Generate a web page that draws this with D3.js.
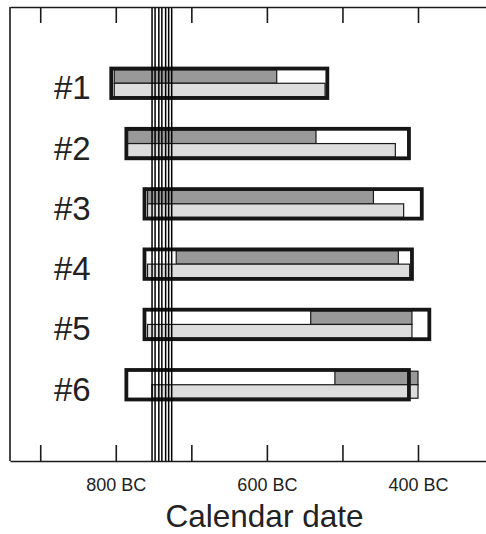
<!doctype html>
<html>
  <head>
    <meta charset="utf-8"/>
    <title>Calendar date</title>
    <style>
      body, html {
        padding: 0;
        margin: 0;
        border: 0;
        background: white;
      }
      svg text {
        font-family: "Liberation Sans", Arial, sans-serif;
        fill: #222;
      }
    </style>
    <script src="https://d3js.org/d3.v7.min.js"></script>
  </head>
  <body>
    <svg id="chart" width="486" height="534"></svg>

    <script>
      // dates are years BC
      var groups = ["#1", "#2", "#3", "#4", "#5", "#6"];
      var outerStart = [806, 786, 762, 762, 762, 786];
      var outerEnd   = [520, 412, 395, 408, 385, 412];
      var darkStart  = [802, 785, 758, 720, 542, 510];
      var darkEnd    = [587, 535, 459, 426, 408, 400];
      var lightStart = [802, 785, 758, 758, 758, 752];
      var lightEnd   = [523, 430, 419, 411, 408, 400];
      var lineDates  = [752, 748, 743, 739, 734, 730, 726];
      var tickValues = [900, 800, 700, 600, 500, 400];
      var tickLabels = ["", "800 BC", "", "600 BC", "", "400 BC"];

      var plotTop = 7, plotBottom = 461, plotLeft = 10, plotRight = 486;

      var x = d3.scaleLinear()
        .domain([940, 310])
        .range([plotLeft, plotRight]);

      var y = d3.scalePoint()
        .domain(groups)
        .range([plotTop, plotBottom])
        .padding(1.265);

      var svg = d3.select("#chart");

      var rows = groups.map(function(g, i) {
        return {
          id: g,
          outer: [outerStart[i], outerEnd[i]],
          dark: [darkStart[i], darkEnd[i]],
          light: [lightStart[i], lightEnd[i]]
        };
      });

      var half = 14.75, barH = 13.5;

      var row = svg.selectAll(".row")
        .data(rows)
        .enter().append("g")
          .attr("class", "row")
          .attr("transform", function(d) { return "translate(0," + y(d.id) + ")"; });

      // white box behind
      row.append("rect")
        .attr("x", function(d) { return x(d.outer[0]); })
        .attr("y", -half)
        .attr("width", function(d) { return x(d.outer[1]) - x(d.outer[0]); })
        .attr("height", half * 2)
        .attr("fill", "white");

      row.append("rect")
        .attr("x", function(d) { return x(d.dark[0]); })
        .attr("y", -barH)
        .attr("width", function(d) { return x(d.dark[1]) - x(d.dark[0]); })
        .attr("height", barH)
        .attr("fill", "#999")
        .attr("stroke", "#1a1a1a")
        .attr("stroke-width", 1.2);

      row.append("rect")
        .attr("x", function(d) { return x(d.light[0]); })
        .attr("y", 0)
        .attr("width", function(d) { return x(d.light[1]) - x(d.light[0]); })
        .attr("height", barH)
        .attr("fill", "#ddd")
        .attr("stroke", "#1a1a1a")
        .attr("stroke-width", 1.2);

      row.append("rect")
        .attr("x", function(d) { return x(d.outer[0]); })
        .attr("y", -half)
        .attr("width", function(d) { return x(d.outer[1]) - x(d.outer[0]); })
        .attr("height", half * 2)
        .attr("fill", "none")
        .attr("stroke", "#161616")
        .attr("stroke-width", 3.8);

      row.append("text")
        .attr("x", 54)
        .attr("y", 16)
        .style("font-size", "33px")
        .text(function(d) { return d.id; });

      // vertical date lines
      svg.selectAll(".vline")
        .data(lineDates)
        .enter().append("line")
          .attr("class", "vline")
          .attr("x1", function(d) { return x(d); })
          .attr("x2", function(d) { return x(d); })
          .attr("y1", plotTop)
          .attr("y2", plotBottom)
          .attr("stroke", "#000")
          .attr("stroke-width", 1.5);

      // axes, ticks pointing inward
      var xAxis = d3.axisBottom(x)
        .tickValues(tickValues)
        .tickSizeInner(-16)
        .tickSizeOuter(0)
        .tickPadding(17)
        .tickFormat(function(d, i) { return tickLabels[i]; });

      var gx = svg.append("g")
        .attr("transform", "translate(0," + plotBottom + ")")
        .call(xAxis);
      gx.selectAll("text").style("font-size", "18px").attr("fill", "#222");

      svg.append("g")
        .attr("transform", "translate(0," + plotTop + ")")
        .call(d3.axisTop(x).tickValues(tickValues).tickSizeInner(-16).tickSizeOuter(0).tickFormat(""));

      svg.selectAll(".domain, .tick line")
        .attr("stroke", "#1a1a1a")
        .attr("stroke-width", 1.6);

      svg.append("line")
        .attr("x1", plotLeft).attr("x2", plotLeft)
        .attr("y1", plotTop).attr("y2", plotBottom)
        .attr("stroke", "#1a1a1a")
        .attr("stroke-width", 1.6);

      svg.append("text")
        .attr("x", 264.5)
        .attr("y", 527)
        .attr("text-anchor", "middle")
        .style("font-size", "31.5px")
        .text("Calendar date");
    </script>
  </body>
</html>
